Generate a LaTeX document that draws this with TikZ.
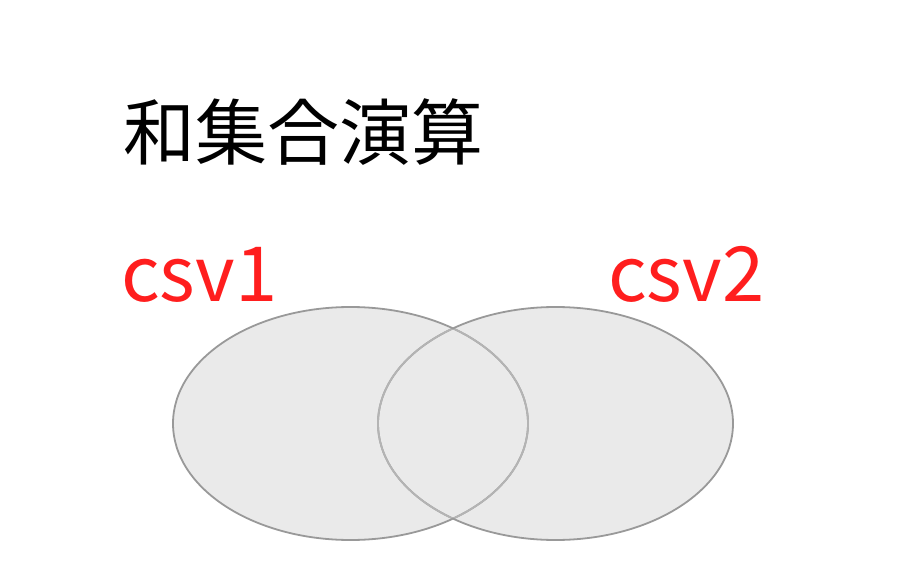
\documentclass[tikz,border=0pt]{standalone}
\usepackage{fontspec}
\newfontfamily\jpfont{Noto Sans CJK JP}
\usepackage{tikz}
\definecolor{setFill}{HTML}{EAEAEA}
\definecolor{setLine}{HTML}{999999}
\definecolor{setInner}{HTML}{B4B4B4}
\definecolor{csvRed}{HTML}{FF1E1E}
\tikzset{label/.style={anchor=base west,inner sep=0pt}}

\begin{document}
\begin{tikzpicture}[x=1pt,y=1pt]
\useasboundingbox (0,0) rectangle (899,574);
\fill[setFill] (350.5,150.5) ellipse [x radius=177.5,y radius=116.5];
\fill[setFill] (555.5,150.5) ellipse [x radius=177.5,y radius=116.5];
\draw[setLine,line width=1.8pt] (350.5,150.5) ellipse [x radius=177.5,y radius=116.5];
\draw[setLine,line width=1.8pt] (555.5,150.5) ellipse [x radius=177.5,y radius=116.5];
\begin{scope}
\clip (555.5,150.5) ellipse [x radius=176.5,y radius=115.5];
\draw[setInner,line width=1.8pt] (350.5,150.5) ellipse [x radius=177.5,y radius=116.5];
\end{scope}
\begin{scope}
\clip (350.5,150.5) ellipse [x radius=176.5,y radius=115.5];
\draw[setInner,line width=1.8pt] (555.5,150.5) ellipse [x radius=177.5,y radius=116.5];
\end{scope}
\node[label] (title) at (123,414) {\jpfont\fontsize{72}{72}\selectfont 和集合演算};
\node[label,text=csvRed] (csv1) at (121,273) {\jpfont\fontsize{76}{76}\selectfont csv1};
\node[label,text=csvRed] (csv2) at (608,273) {\jpfont\fontsize{76}{76}\selectfont csv2};
\end{tikzpicture}
\end{document}
